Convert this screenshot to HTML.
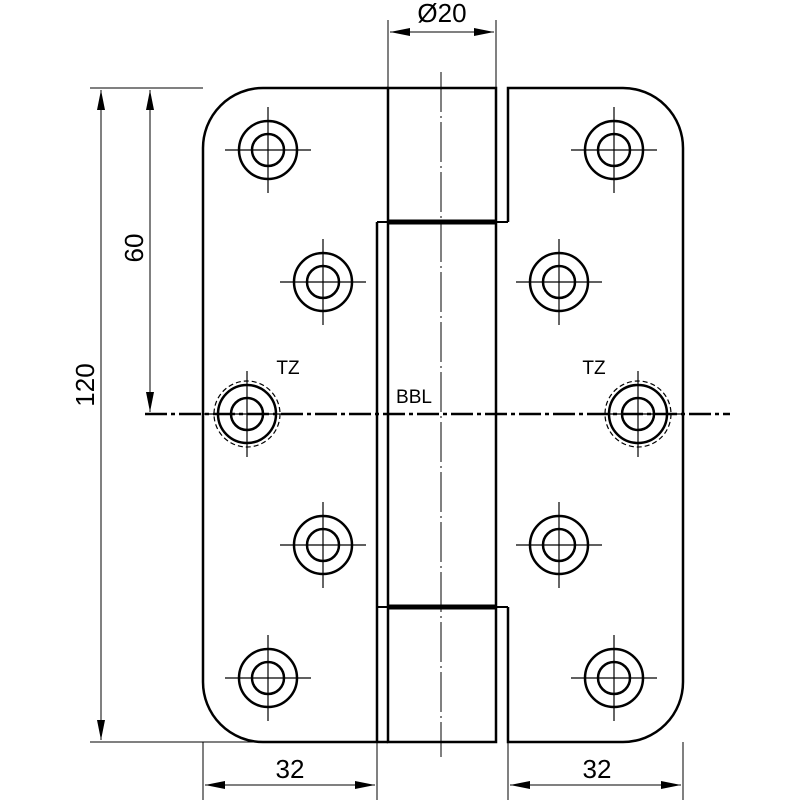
<!DOCTYPE html>
<html><head><meta charset="utf-8"><style>html,body{margin:0;padding:0;background:#fff}</style></head><body>
<svg width="800" height="800" viewBox="0 0 800 800" xmlns="http://www.w3.org/2000/svg" font-family="Liberation Sans, sans-serif">
<defs>
<marker id="a" viewBox="0 0 10 4" refX="10" refY="2" markerWidth="20" markerHeight="8" markerUnits="userSpaceOnUse" orient="auto-start-reverse"><path d="M0,0 L10,2 L0,4 z" fill="#000"/></marker>
<g id="h"><circle r="29" fill="none" stroke="#000" stroke-width="2.5"/><circle r="16" fill="none" stroke="#000" stroke-width="2.5"/><path d="M-43,0H43M0,-43V43" stroke="#000" stroke-width="1.2"/></g>
</defs>
<g fill="none" stroke="#000">
<path d="M388,88 H263 A60,60 0 0 0 203,148 V682 A60,60 0 0 0 263,742 H388" stroke-width="2.5"/>
<path d="M377,222 V742" stroke-width="2.5"/>
<path d="M388,88 H496 V742 H388 Z" stroke-width="2.5"/>
<path d="M388,222 H496 M388,607 H496" stroke-width="5"/>
<path d="M377,222 H508 M377,607 H508" stroke-width="2"/>
<path d="M508,222 V88 H623 A60,60 0 0 1 683,148 V682 A60,60 0 0 1 623,742 H508 V607" stroke-width="2.5"/>
<path d="M441,72 V757" stroke-width="1" stroke-dasharray="40,4,2,4"/>
<path d="M145,414 H730" stroke-width="2.5" stroke-dasharray="22,4,4,4"/>
<circle cx="247" cy="414" r="33" stroke-width="1.2" stroke-dasharray="5,3"/>
<circle cx="638" cy="414" r="33" stroke-width="1.2" stroke-dasharray="5,3"/>
<g stroke-width="1">
<path d="M388,20 V88 M496,20 V88"/>
<path d="M390,32 H494" marker-start="url(#a)" marker-end="url(#a)"/>
<path d="M90,88 H203 M90,742 H380"/>
<path d="M101,90 V740" marker-start="url(#a)" marker-end="url(#a)"/>
<path d="M150,90 V412" marker-start="url(#a)" marker-end="url(#a)"/>
<path d="M203,742 V800 M377,742 V800 M508,742 V800 M683,742 V800"/>
<path d="M205,785 H375" marker-start="url(#a)" marker-end="url(#a)"/>
<path d="M510,785 H681" marker-start="url(#a)" marker-end="url(#a)"/>
</g>
</g>
<use href="#h" x="268" y="150"/><use href="#h" x="323" y="282"/><use href="#h" x="247" y="414"/><use href="#h" x="323" y="545"/><use href="#h" x="268" y="678"/>
<use href="#h" x="614" y="150"/><use href="#h" x="559" y="282"/><use href="#h" x="638" y="414"/><use href="#h" x="559" y="545"/><use href="#h" x="614" y="678"/>
<g font-size="26" fill="#000" text-anchor="middle">
<text x="442" y="22">Ø20</text>
<text x="290" y="778">32</text>
<text x="597" y="778">32</text>
<text transform="translate(143,248) rotate(-90)">60</text>
<text transform="translate(94,385) rotate(-90)">120</text>
</g>
<g font-size="19" fill="#000" text-anchor="middle">
<text x="288" y="374">TZ</text>
<text x="594" y="374">TZ</text>
<text x="414" y="403">BBL</text>
</g>
</svg>
</body></html>
